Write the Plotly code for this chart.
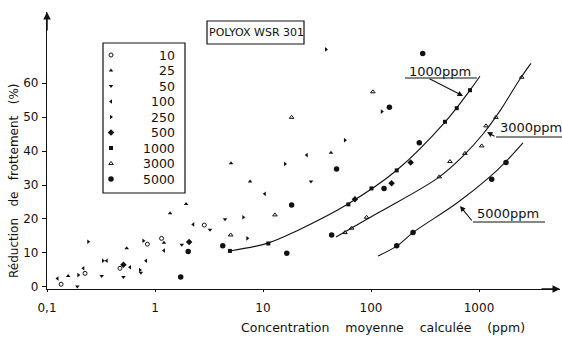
import plotly.graph_objects as go

# ---------------- data ----------------
series_names = ["10", "25", "50", "100", "250", "500", "1000", "3000", "5000"]

s10_x = [0.135, 0.225, 0.474, 0.85, 1.15, 2.86]
s10_y = [0.8, 4.0, 5.5, 12.6, 14.3, 18.2]

s25_x = [0.157, 0.547, 1.21, 1.38, 1.94, 5.06, 7.59, 42.6]
s25_y = [3.2, 11.4, 13.0, 21.7, 24.4, 36.4, 31.0, 39.5]

s50_x = [0.191, 0.321, 0.51, 0.74, 1.77, 3.23, 4.45, 27.8]
s50_y = [0.1, 3.2, 2.9, 4.2, 12.4, 16.8, 19.9, 31.0]

s100_x = [0.125, 0.217, 0.357, 0.587, 0.826, 1.21, 2.26, 10.4, 25.4]
s100_y = [2.5, 5.5, 7.7, 5.8, 7.7, 10.7, 18.4, 27.4, 38.8]

s250_x = [0.195, 0.241, 0.33, 0.726, 0.78, 6.57, 7.16, 16.0, 57.4, 38.3, 126]
s250_y = [3.5, 13.3, 7.7, 5.0, 13.6, 20.5, 14.3, 36.2, 43.2, 69.9, 51.6]

s500_x = [0.51, 2.07, 71.0, 155, 233]
s500_y = [6.5, 13.2, 25.8, 30.5, 36.6]

s1000_x = [4.94, 11.2, 61.7, 101, 173, 484, 622, 826]
s1000_y = [10.6, 12.8, 24.3, 29.0, 34.3, 48.6, 52.6, 57.9]

s3000_x = [5.02, 12.9, 18.4, 104, 57.4, 66.2, 91, 429, 538, 741, 1060, 1162, 1435, 2485]
s3000_y = [15.3, 21.2, 49.9, 57.4, 16.0, 17.3, 20.5, 32.4, 36.9, 39.3, 41.5, 47.4, 49.9, 61.7]

s5000_x = [1.73, 2.03, 4.24, 16.6, 18.4, 43.2, 48.0, 132, 148, 280, 301, 173, 245, 1311, 1778]
s5000_y = [2.9, 10.4, 12.1, 9.9, 24.1, 15.3, 34.7, 29.0, 52.9, 42.4, 68.7, 12.1, 16.0, 31.7, 36.6]

# fitted curves
c1000_x = [4.94, 11.1, 20.5, 61.2, 174, 484, 826, 1020]
c1000_y = [10.6, 12.9, 16.5, 24.4, 34.4, 48.5, 57.9, 62.0]

c3000_x = [47.4, 121, 417, 711, 1089, 1563, 2397, 3027]
c3000_y = [14.7, 22.1, 32.1, 38.5, 45.0, 51.8, 61.2, 65.8]

c5000_x = [116, 174, 245, 625, 1259, 1738, 2553]
c5000_y = [9.1, 12.1, 16.0, 24.7, 32.4, 36.6, 42.4]

x_tick_vals = [0.1, 1, 10, 100, 1000]
x_tick_text = ["0,1", "1", "10", "100", "1000"]
y_tick_vals = [0, 10, 20, 30, 40, 50, 60]

# ---------------- styling ----------------
FONT = "DejaVu Sans"
INK = "#111111"
W, H = 562, 340
L, R, T, B = 47, 560, 12, 289   # plot area in pixels


def px(xp):
    return (xp - L) / (R - L)


def py(yp):
    return (B - yp) / (B - T)


styles = {
    "10": dict(symbol="circle-open", size=4, line=dict(width=1, color=INK)),
    "25": dict(symbol="triangle-up", size=4),
    "50": dict(symbol="triangle-down", size=4),
    "100": dict(symbol="triangle-left", size=4),
    "250": dict(symbol="triangle-right", size=4),
    "500": dict(symbol="diamond", size=5),
    "1000": dict(symbol="square", size=4),
    "3000": dict(symbol="triangle-up-open", size=4, line=dict(width=1, color=INK)),
    "5000": dict(symbol="circle", size=5.5),
}

data = {
    "10": (s10_x, s10_y), "25": (s25_x, s25_y), "50": (s50_x, s50_y),
    "100": (s100_x, s100_y), "250": (s250_x, s250_y), "500": (s500_x, s500_y),
    "1000": (s1000_x, s1000_y), "3000": (s3000_x, s3000_y), "5000": (s5000_x, s5000_y),
}

fig = go.Figure()

for cx, cy in [(c1000_x, c1000_y), (c3000_x, c3000_y), (c5000_x, c5000_y)]:
    fig.add_trace(go.Scatter(x=cx, y=cy, mode="lines",
                             line=dict(color=INK, width=1.1, shape="spline", smoothing=1.0),
                             showlegend=False, hoverinfo="skip"))

for name in series_names:
    xs, ys = data[name]
    fig.add_trace(go.Scatter(x=xs, y=ys, mode="markers", name=name,
                             marker=dict(color=INK, **styles[name]),
                             showlegend=False))

# ---------------- custom legend (hidden axes x2/y2) ----------------
leg_left, leg_right, leg_top, leg_bottom = 103, 185, 43, 193
row0, row_step = 12, 15.5
for i, name in enumerate(series_names):
    fig.add_trace(go.Scatter(x=[8], y=[row0 + i * row_step], mode="markers",
                             marker=dict(color=INK, **styles[name]),
                             xaxis="x2", yaxis="y2", showlegend=False,
                             hoverinfo="skip"))
    fig.add_annotation(x=74, y=row0 + i * row_step, xref="x2", yref="y2",
                       text=name, showarrow=False, xanchor="right",
                       yanchor="middle", font=dict(family=FONT, size=12.5, color=INK))

fig.add_shape(type="rect", xref="paper", yref="paper",
              x0=px(leg_left), x1=px(leg_right), y0=py(leg_bottom), y1=py(leg_top),
              line=dict(color=INK, width=1.2))

# title box
fig.add_shape(type="rect", xref="paper", yref="paper",
              x0=px(207), x1=px(304), y0=py(44), y1=py(21),
              line=dict(color=INK, width=1.2))
fig.add_annotation(x=px(256), y=py(33), xref="paper", yref="paper",
                   text="POLYOX WSR 301", showarrow=False,
                   xanchor="center", yanchor="middle",
                   font=dict(family=FONT, size=11, color=INK))

# curve labels with underline and pointer
labels = [
    ("1000ppm", 407, 477, 71, 78, (428, 78), (463, 96)),
    ("3000ppm", 498, 562, 128, 137, (496, 137), (487, 132)),
    ("5000ppm", 475, 545, 213, 222, (473, 222), (460, 206)),
]
for text, x0, x1, ty, uy, tail, head in labels:
    fig.add_annotation(x=px(x0), y=py(ty), xref="paper", yref="paper",
                       text=text, showarrow=False, xanchor="left", yanchor="middle",
                       font=dict(family=FONT, size=13, color=INK))
    fig.add_shape(type="line", xref="paper", yref="paper",
                  x0=px(x0 - 2), x1=px(x1), y0=py(uy), y1=py(uy),
                  line=dict(color=INK, width=1.1))
    fig.add_annotation(x=px(head[0]), y=py(head[1]), xref="paper", yref="paper",
                       ax=tail[0] - head[0], ay=tail[1] - head[1],
                       text="", showarrow=True, arrowhead=2, arrowsize=1,
                       arrowwidth=1.1, arrowcolor=INK)

# axis arrows
fig.add_annotation(x=px(L), y=py(T), xref="paper", yref="paper", ax=0, ay=20,
                   text="", showarrow=True, arrowhead=2, arrowsize=1,
                   arrowwidth=1.5, arrowcolor=INK)
fig.add_annotation(x=px(R), y=py(B), xref="paper", yref="paper", ax=-20, ay=0,
                   text="", showarrow=True, arrowhead=2, arrowsize=1,
                   arrowwidth=1.5, arrowcolor=INK)

# axis titles
fig.add_annotation(x=px(383), y=py(327), xref="paper", yref="paper",
                   text="Concentration    moyenne    calculée    (ppm)", showarrow=False,
                   xanchor="center", yanchor="middle",
                   font=dict(family=FONT, size=12.5, color=INK))
fig.add_annotation(x=px(14), y=py(181), xref="paper", yref="paper",
                   text="Réduction   de   frottement   (%)", showarrow=False,
                   xanchor="center", yanchor="middle",
                   textangle=-90, font=dict(family=FONT, size=12, color=INK))

fig.update_layout(
    width=W, height=H,
    margin=dict(l=L, r=W - R, t=T, b=H - B),
    paper_bgcolor="white", plot_bgcolor="white",
    font=dict(family=FONT, size=11, color=INK),
    showlegend=False,
    xaxis=dict(type="log", range=[-1, 3.75], tickvals=x_tick_vals,
               ticktext=x_tick_text, showgrid=False, zeroline=False,
               showline=True, linecolor=INK, linewidth=1.3,
               ticks="outside", ticklen=2, tickcolor=INK,
               ticklabelstandoff=5, tickfont=dict(family=FONT, size=12)),
    yaxis=dict(range=[-0.6, 80.9], tickvals=y_tick_vals, showgrid=False,
               zeroline=False, showline=True, linecolor=INK, linewidth=1.3,
               ticks="outside", ticklen=4, tickcolor=INK,
               ticklabelstandoff=1, tickfont=dict(family=FONT, size=12)),
    xaxis2=dict(domain=[px(leg_left), px(leg_right)], range=[0, leg_right - leg_left],
                visible=False, anchor="y2", fixedrange=True),
    yaxis2=dict(domain=[py(leg_bottom), py(leg_top)], range=[leg_bottom - leg_top, 0],
                visible=False, anchor="x2", fixedrange=True),
)

fig.write_html("out.html")
